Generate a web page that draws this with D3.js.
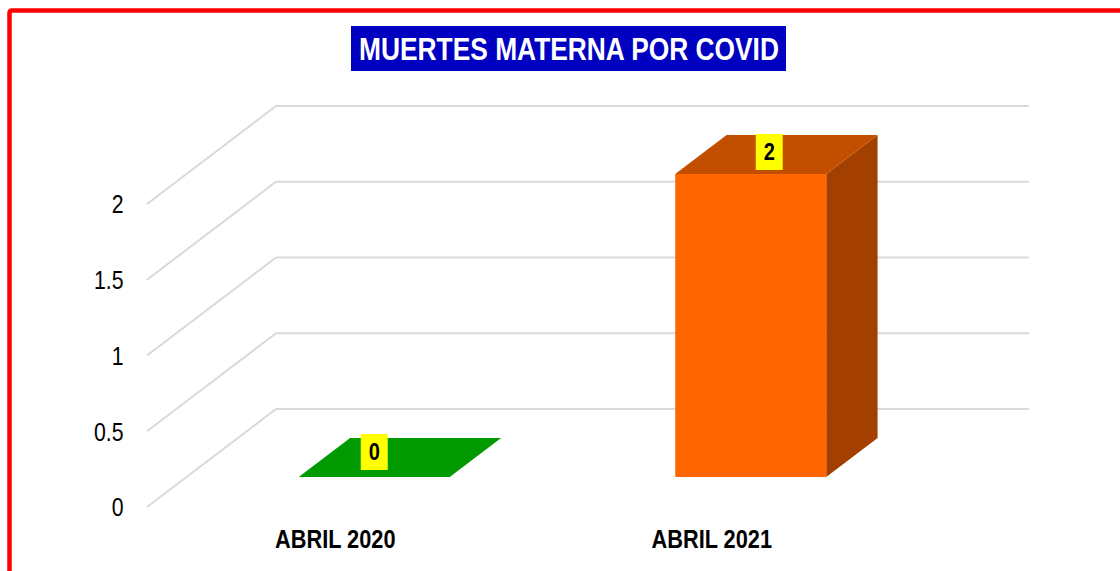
<!DOCTYPE html>
<html>
<head>
<meta charset="utf-8">
<script src="https://cdn.jsdelivr.net/npm/d3@7"></script>
<style>
    html, body { margin: 0; padding: 0; background: #fff; overflow: hidden; }
    svg { display: block; }
    text { font-family: "Liberation Sans", Arial, sans-serif; }
</style>
</head>
<body>
<svg id="drawing_region"></svg>
<script>
const title = 'MUERTES MATERNA POR COVID';
const categories = ['ABRIL 2020', 'ABRIL 2021'];
const values = [0, 2];
const y_ticks = [0, 0.5, 1, 1.5, 2];
const front_colors = ['#009900', '#ff6600'];
const top_colors = ['#009900', '#c24f00'];
const side_colors = ['#009900', '#a34000'];

const width = 1120, height = 571;
const floor = {left: 147, right: 900, front: 507};
const wall = {dx: 129, dy: -98};       // full depth of the 3d box
const bar_z = {start: 30 / 98, end: 69 / 98};  // where the bars sit in that depth
const squeeze = 0.87;                  // the original text is horizontally narrowed

const svg = d3.select('#drawing_region')
    .attr('width', width)
    .attr('height', height);

const x = d3.scaleBand()
    .domain(categories)
    .range([floor.left, floor.right])
    .paddingInner(0)
    .paddingOuter(0);
const y = d3.scaleLinear()
    .domain([0, 2])
    .range([floor.front, 204]);

// projection of a point (x on the floor, y from the value, z in depth 0..1)
const project = (px, py, z) => [px + wall.dx * z, py + wall.dy * z];
const line = d3.line();

// border
svg.append('rect')
    .attr('x', 9.5).attr('y', 10.5)
    .attr('width', width + 20).attr('height', height + 20)
    .attr('rx', 2)
    .attr('fill', '#fff')
    .attr('stroke', '#ff0000')
    .attr('stroke-width', 4.5);

// grid: side wall + back wall
svg.append('g').selectAll('path')
    .data(y_ticks)
    .join('path')
    .attr('d', d => line([
        project(floor.left, y(d), 0),
        project(floor.left, y(d), 1),
        project(floor.right, y(d), 1)
    ]))
    .attr('fill', 'none')
    .attr('stroke', '#d9d9d9')
    .attr('stroke-width', 2);

// axes
const y_axis = svg.append('g')
    .attr('transform', `translate(${floor.left}, 0)`)
    .call(d3.axisLeft(y).tickValues(y_ticks).tickSize(0).tickFormat(d => d));
y_axis.select('.domain').remove();
y_axis.selectAll('text')
    .attr('x', 0)
    .attr('dy', '0.35em')
    .attr('transform', `translate(-23.5, 0) scale(0.85, 1)`)
    .style('font-size', '25px')
    .attr('fill', '#000');

const x_axis = svg.append('g')
    .attr('transform', `translate(0, ${floor.front})`)
    .call(d3.axisBottom(x).tickSize(0));
x_axis.select('.domain').remove();
x_axis.selectAll('text')
    .attr('y', 0)
    .attr('dy', 41)
    .attr('transform', `scale(${squeeze}, 1)`)
    .style('font-size', '25px')
    .style('font-weight', 'bold')
    .attr('fill', '#000');

// bars
const bar_w = 151;
const bars = svg.append('g').selectAll('g')
    .data(categories)
    .join('g');
const corners = (c, i) => {
    const x0 = x(c) + x.bandwidth() / 2 - bar_w / 2 - 0.5;
    return {x0: x0, x1: x0 + bar_w, y0: y(0), y1: y(values[i])};
};
bars.append('path')
    .attr('d', (c, i) => {
        const k = corners(c, i);
        return line([
            project(k.x1, k.y0, bar_z.start), project(k.x1, k.y0, bar_z.end),
            project(k.x1, k.y1, bar_z.end), project(k.x1, k.y1, bar_z.start)
        ]) + 'Z';
    })
    .attr('fill', (c, i) => side_colors[i]);
bars.append('path')
    .attr('d', (c, i) => {
        const k = corners(c, i);
        return line([
            project(k.x0, k.y1, bar_z.start), project(k.x1, k.y1, bar_z.start),
            project(k.x1, k.y1, bar_z.end), project(k.x0, k.y1, bar_z.end)
        ]) + 'Z';
    })
    .attr('fill', (c, i) => top_colors[i]);
bars.append('path')
    .attr('d', (c, i) => {
        const k = corners(c, i);
        return line([
            project(k.x0, k.y0, bar_z.start), project(k.x1, k.y0, bar_z.start),
            project(k.x1, k.y1, bar_z.start), project(k.x0, k.y1, bar_z.start)
        ]) + 'Z';
    })
    .attr('fill', (c, i) => front_colors[i]);

// data labels, placed by hand in the original
const label_shift = [[0, -25], [18.5, -22]];
const labels = svg.append('g').selectAll('g')
    .data(categories)
    .join('g')
    .attr('transform', (c, i) => {
        const k = corners(c, i);
        const p = project((k.x0 + k.x1) / 2, k.y1, bar_z.start);
        return `translate(${p[0] + label_shift[i][0]}, ${p[1] + label_shift[i][1]})`;
    });
labels.append('rect')
    .attr('x', -13.5).attr('y', -18)
    .attr('width', 27).attr('height', 36)
    .attr('fill', '#ffff00');
labels.append('text')
    .attr('text-anchor', 'middle')
    .attr('y', 8)
    .attr('transform', `scale(${squeeze}, 1)`)
    .style('font-size', '23px')
    .style('font-weight', 'bold')
    .attr('fill', '#000')
    .text((c, i) => values[i]);

// title
svg.append('rect')
    .attr('x', 351).attr('y', 26)
    .attr('width', 435).attr('height', 45)
    .attr('fill', '#0000c0');
svg.append('text')
    .attr('text-anchor', 'middle')
    .attr('transform', `translate(569, 60) scale(0.85, 1)`)
    .style('font-size', '31px')
    .style('font-weight', 'bold')
    .attr('fill', '#fff')
    .text(title);
</script>
</body>
</html>
